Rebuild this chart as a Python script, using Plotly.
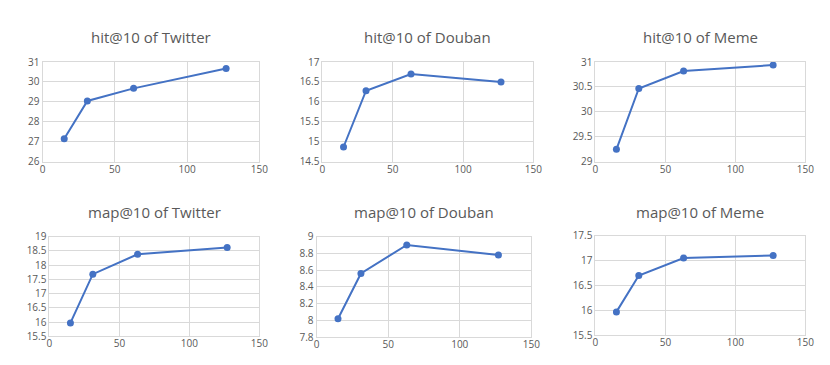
import plotly.graph_objects as go

# embedding size on the x axis
sizes = [15, 31, 63, 127]

titles = [
    "hit@10 of Twitter", "hit@10 of Douban", "hit@10 of Meme",
    "map@10 of Twitter", "map@10 of Douban", "map@10 of Meme",
]

hit_twitter = [27.15, 29.05, 29.68, 30.68]
hit_douban = [14.87, 16.28, 16.70, 16.50]
hit_meme = [29.25, 30.47, 30.82, 30.94]
map_twitter = [15.97, 17.68, 18.38, 18.62]
map_douban = [8.02, 8.56, 8.90, 8.78]
map_meme = [15.97, 16.70, 17.05, 17.10]

series = [hit_twitter, hit_douban, hit_meme, map_twitter, map_douban, map_meme]

# y axis ranges and tick steps per panel
y_ranges = [(26, 31), (14.5, 17), (29, 31), (15.5, 19), (7.8, 9), (15.5, 17.5)]
y_steps = [1, 0.5, 0.5, 0.5, 0.2, 0.5]

# plot-area boxes in pixels (left, right, top, bottom)
W, H = 830, 365
boxes = [
    (32, 252, 48, 152), (316, 530, 48, 152), (593, 806, 48, 152),
    (39, 252, 230, 334), (310, 528, 230, 335), (593, 806, 229, 333),
]

LINE_COLOR = '#4472C4'
GRID = '#d9d9d9'
TEXT = '#595959'
FONT = 'Open Sans, Liberation Sans, sans-serif'

fig = go.Figure()
layout = {}
for i, (vals, title) in enumerate(zip(series, titles)):
    n = '' if i == 0 else str(i + 1)
    left, right, top, bottom = boxes[i]
    fig.add_trace(go.Scatter(
        x=sizes, y=vals, mode='lines+markers',
        line=dict(color=LINE_COLOR, width=2),
        marker=dict(color=LINE_COLOR, size=7),
        xaxis='x' + n, yaxis='y' + n, showlegend=False,
    ))
    layout['xaxis' + n] = dict(
        domain=[left / W, right / W], anchor='y' + n,
        range=[0, 150], dtick=50, tick0=0,
        showgrid=True, gridcolor=GRID, gridwidth=1,
        showline=True, linecolor=GRID, mirror=True,
        zeroline=False, ticks='', fixedrange=True,
        ticklabelstandoff=-2,
        tickfont=dict(size=10, color=TEXT, family=FONT),
    )
    layout['yaxis' + n] = dict(
        domain=[1 - bottom / H, 1 - top / H], anchor='x' + n,
        range=list(y_ranges[i]), dtick=y_steps[i], tick0=y_ranges[i][0],
        showgrid=True, gridcolor=GRID, gridwidth=1,
        showline=True, linecolor=GRID, mirror=True,
        zeroline=False, ticks='',
        tickfont=dict(size=10, color=TEXT, family=FONT),
    )

annotations = []
for i, title in enumerate(titles):
    left, right, top, bottom = boxes[i]
    title_y = 22 if i < 3 else 204
    annotations.append(dict(
        text=title, x=(left + right) / 2 / W, y=1 - title_y / H,
        xref='paper', yref='paper', showarrow=False,
        xanchor='center', yanchor='middle',
        font=dict(size=15, color=TEXT, family=FONT),
    ))

fig.update_layout(
    width=W, height=H,
    margin=dict(l=0, r=0, t=0, b=0),
    paper_bgcolor='white', plot_bgcolor='white',
    annotations=annotations,
    **layout,
)

fig.write_html("out.html")
